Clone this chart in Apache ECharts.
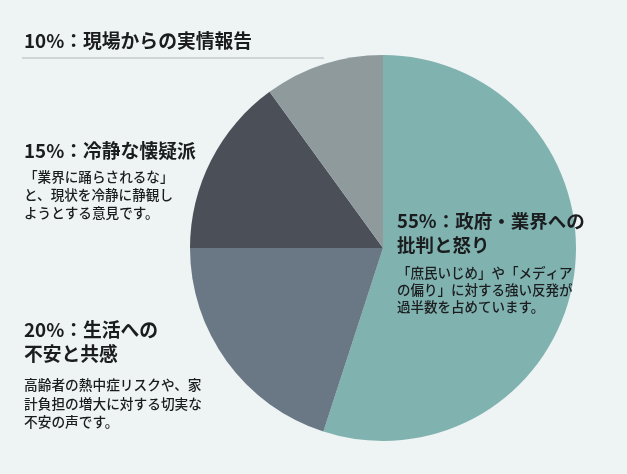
<!DOCTYPE html>
<html>
<head>
<meta charset="utf-8">
<script src="https://cdn.jsdelivr.net/npm/echarts@6/dist/echarts.min.js"></script>
<style>
html,body{margin:0;padding:0;background:#eef3f4;}
#c{width:627px;height:474px;}
</style>
</head>
<body>
<div id="c"></div>
<script>
// Data
const categories = ['政府・業界への批判と怒り', '生活への不安と共感', '冷静な懐疑派', '現場からの実情報告'];
const values = [55, 20, 15, 10];
const sliceColors = ['#80b2b0', '#6a7784', '#4a4f58', '#8f9a9c'];

const titles55 = ['55%：政府・業界への', '批判と怒り'];
const desc55 = ['「庶民いじめ」や「メディア', 'の偏り」に対する強い反発が', '過半数を占めています。'];
const titles20 = ['20%：生活への', '不安と共感'];
const desc20 = ['高齢者の熱中症リスクや、家', '計負担の増大に対する切実な', '不安の声です。'];
const titles15 = ['15%：冷静な懐疑派'];
const desc15 = ['「業界に踊らされるな」', 'と、現状を冷静に静観し', 'ようとする意見です。'];
const titles10 = ['10%：現場からの実情報告'];

const FONT = '"Noto Sans CJK JP", "Noto Sans", sans-serif';
const TXT = '#1a1c1e';

function block(lines, x, yTop, size, lh, weight) {
  return {
    type: 'text', x: x, y: yTop, z: 10,
    style: {
      text: lines.join('\n'),
      fontFamily: FONT, fontSize: size, fontWeight: weight,
      lineHeight: lh, fill: TXT, verticalAlign: 'top', align: 'left'
    }
  };
}

const chart = echarts.init(document.getElementById('c'), null, {renderer: 'canvas'});
chart.setOption({
  backgroundColor: '#eef3f4',
  animation: false,
  series: [{
    type: 'pie',
    center: [383, 248],
    radius: [0, 193],
    startAngle: 90,
    clockwise: true,
    label: {show: false},
    labelLine: {show: false},
    emphasis: {disabled: true},
    itemStyle: {borderWidth: 0},
    data: categories.map((n, i) => ({name: n, value: values[i], itemStyle: {color: sliceColors[i]}}))
  }],
  graphic: [
    block(titles10, 24, 41 - 12, 18.8, 24, 'bold'),
    {type: 'line', z: 10, shape: {x1: 22, y1: 58, x2: 324, y2: 58}, style: {stroke: '#b0b5b8', lineWidth: 1}},
    block(titles15, 24, 151 - 12, 18.8, 24, 'bold'),
    block(desc15, 24, 177 - 9, 13.6, 18, 500),
    block(titles55, 397, 221 - 12, 18.5, 24, 'bold'),
    block(desc55, 397, 273 - 8.5, 13.5, 17, 500),
    block(titles20, 24, 330 - 12, 18.8, 24, 'bold'),
    block(desc20, 24, 385 - 9, 13.7, 18.5, 500)
  ]
});
</script>
</body>
</html>
